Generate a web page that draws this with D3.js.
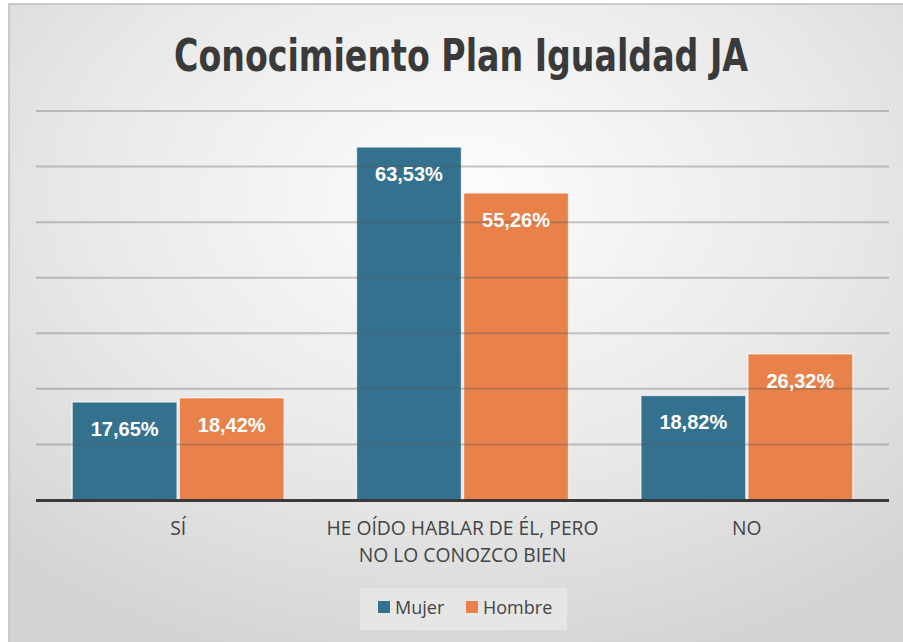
<!DOCTYPE html>
<html><head><meta charset="utf-8">
<script src="https://cdn.jsdelivr.net/npm/d3@7"></script>
<style>body{margin:0;background:#fff;}svg{display:block;}</style>
</head><body>
<svg id="c" width="903" height="642"></svg>
<script>
const categories = [["SÍ"], ["HE OÍDO HABLAR DE ÉL, PERO", "NO LO CONOZCO BIEN"], ["NO"]];
const categoryKeys = ["si", "he_oido", "no"];
const seriesNames = ["Mujer", "Hombre"];
const mujer = [17.65, 63.53, 18.82];
const hombre = [18.42, 55.26, 26.32];
const labelsMujer = ["17,65%", "63,53%", "18,82%"];
const labelsHombre = ["18,42%", "55,26%", "26,32%"];
const yTicks = [0, 10, 20, 30, 40, 50, 60, 70];
const colors = ["#33718f", "#e8814a"];

const svg = d3.select("#c");
const defs = svg.append("defs");
const rg = defs.append("radialGradient").attr("id","bg").attr("cx","50%").attr("cy","30%").attr("r","75%");
rg.append("stop").attr("offset","0%").attr("stop-color","#fdfdfd");
rg.append("stop").attr("offset","55%").attr("stop-color","#e9e9e9");
rg.append("stop").attr("offset","100%").attr("stop-color","#d3d3d3");

svg.append("rect").attr("x",9).attr("y",4).attr("width",903).attr("height",650)
  .attr("fill","url(#bg)").attr("stroke","#bdbdbd").attr("stroke-width",1.5);

const L = 36, R = 889, T = 111, B = 500;
const x0 = d3.scaleBand().domain(categoryKeys).range([L, R]).paddingInner(0.247).paddingOuter(0.1235);
const x1 = d3.scaleBand().domain(seriesNames).range([0, x0.bandwidth()]).padding(0);
const y = d3.scaleLinear().domain([0, 70]).range([B, T]);

const data = categoryKeys.map((k,i)=>({key:k, vals:[mujer[i], hombre[i]], labs:[labelsMujer[i], labelsHombre[i]]}));

// bars
const g = svg.append("g");
data.forEach(d=>{
  d.vals.forEach((v,j)=>{
    g.append("rect")
      .attr("x", x0(d.key)+x1(seriesNames[j])+1)
      .attr("y", y(v))
      .attr("width", x1.bandwidth()-2)
      .attr("height", B - y(v))
      .attr("fill", colors[j])
      .attr("stroke", "rgba(255,255,255,0.7)")
      .attr("stroke-width", 1.5);
  });
});

// gridlines on top
svg.append("g").selectAll("line").data(yTicks.filter(t=>t>0)).join("line")
  .attr("x1", L).attr("x2", R)
  .attr("y1", d=>y(d)).attr("y2", d=>y(d))
  .attr("stroke", "rgba(90,90,90,0.33)").attr("stroke-width", 2);

// baseline
svg.append("line").attr("x1",L).attr("x2",R).attr("y1",B+0.5).attr("y2",B+0.5)
  .attr("stroke","#3a3a3a").attr("stroke-width",3);

// value labels
data.forEach(d=>{
  d.vals.forEach((v,j)=>{
    svg.append("text")
      .attr("x", x0(d.key)+x1(seriesNames[j])+x1.bandwidth()/2)
      .attr("y", y(v)+34)
      .attr("text-anchor","middle")
      .attr("font-family","'Liberation Sans', Arial, sans-serif")
      .attr("font-weight","bold").attr("font-size",20)
      .attr("fill","#ffffff")
      .text(d.labs[j]);
  });
});

// category labels
categories.forEach((lines,i)=>{
  const cx = x0(categoryKeys[i]) + x0.bandwidth()/2;
  lines.forEach((ln,k)=>{
    svg.append("text").attr("x",cx).attr("y",535+k*27)
      .attr("text-anchor","middle")
      .attr("font-family","'Open Sans', sans-serif").attr("font-size",19.3)
      .attr("fill","#444").text(ln);
  });
});

// title
svg.append("text").attr("x",461).attr("y",71).attr("text-anchor","middle")
  .attr("font-family","'Liberation Sans Narrow', 'DejaVu Sans Condensed', sans-serif")
  .attr("font-weight","bold").attr("font-size",44).attr("fill","#3a3a3a")
  .attr("textLength",574).attr("lengthAdjust","spacingAndGlyphs")
  .text("Conocimiento Plan Igualdad JA");

// legend
const lg = svg.append("g");
lg.append("rect").attr("x",360).attr("y",588).attr("width",207).attr("height",42).attr("fill","#e6e6e6");
const legX = [378, 466];
seriesNames.forEach((s,j)=>{
  lg.append("rect").attr("x",legX[j]).attr("y",601).attr("width",12).attr("height",12).attr("fill",colors[j]);
  lg.append("text").attr("x",legX[j]+17).attr("y",614)
    .attr("font-family","'Open Sans', sans-serif").attr("font-size",18).attr("fill","#444").text(s);
});
</script>
</body></html>
